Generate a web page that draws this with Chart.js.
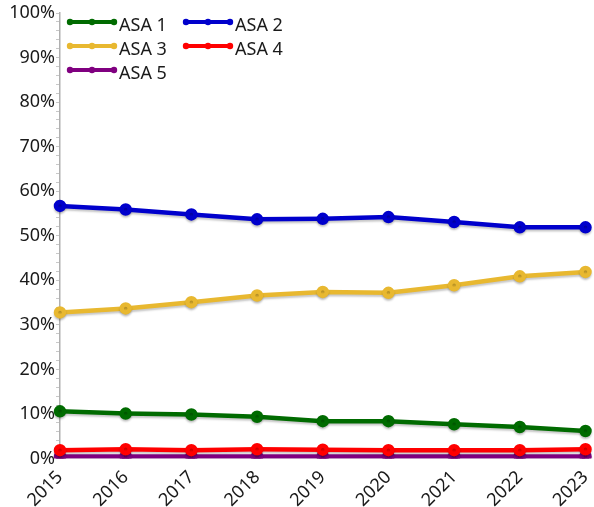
<!DOCTYPE html>
<html><head><meta charset="utf-8">
<script src="https://cdn.jsdelivr.net/npm/chart.js@4/dist/chart.umd.min.js"></script>
<style>html,body{margin:0;padding:0;background:#fff}#wrap{width:594px;height:507px}</style>
</head><body><div id="wrap"><canvas id="c" width="594" height="507"></canvas></div>
<script>
const years = ['2015','2016','2017','2018','2019','2020','2021','2022','2023'];
const asa1 = [10.6,10.1,9.9,9.4,8.4,8.4,7.7,7.1,6.2];
const asa2 = [56.7,55.9,54.8,53.7,53.8,54.2,53.1,51.9,51.9];
const asa3 = [32.8,33.7,35.1,36.6,37.4,37.2,38.9,40.9,41.9];
const asa4 = [1.9,2.1,1.9,2.1,2.0,1.9,1.9,1.9,2.1];
const asa5 = [0.5,0.5,0.5,0.5,0.5,0.5,0.5,0.5,0.5];
const seriesNames = ['ASA 1','ASA 2','ASA 3','ASA 4','ASA 5'];
const seriesColors = ['#006b00','#0000cc','#e8b830','#ff0000','#800080'];
const seriesData = [asa1,asa2,asa3,asa4,asa5];
const FONT = '"Noto Sans", "Open Sans", sans-serif';

const shadowPlugin = {
  id:'shadow',
  beforeDatasetsDraw(chart){const c=chart.ctx;c.save();c.shadowColor='rgba(0,0,0,0.22)';c.shadowBlur=2;c.shadowOffsetY=2;},
  afterDatasetsDraw(chart){chart.ctx.restore();}
};
const legendPlugin = {
  id:'inlegend',
  afterDraw(chart){
    const c=chart.ctx;c.save();
    chart.data.datasets.forEach((ds,i)=>{
      const col=i%2,row=Math.floor(i/2);
      const x0=70+col*116, y=22+row*24;
      c.strokeStyle=ds.borderColor;c.fillStyle=ds.borderColor;c.lineWidth=4;
      c.beginPath();c.moveTo(x0,y);c.lineTo(x0+44,y);c.stroke();
      [0,22,44].forEach(dx=>{c.beginPath();c.arc(x0+dx,y,3.2,0,Math.PI*2);c.fill();});
      c.fillStyle='#1a1a1a';c.font='18px '+FONT;c.textBaseline='middle';c.textAlign='left';
      c.fillText(ds.label,x0+49,y+4);
    });
    c.restore();
  }
};

new Chart(document.getElementById('c'),{
  type:'line',
  data:{labels:years,datasets:seriesNames.map((n,i)=>({label:n,data:seriesData[i],borderColor:seriesColors[i],backgroundColor:seriesColors[i],borderWidth:4.5,pointRadius:4,pointHoverRadius:4,tension:0,fill:false}))},
  options:{
    responsive:false,animation:false,
    layout:{padding:{top:13,right:8,left:6,bottom:0}},
    plugins:{legend:{display:false},tooltip:{enabled:false}},
    scales:{
      x:{offset:false,grid:{display:false},border:{display:false},
         afterFit(s){s.height-=4;s.paddingRight=0;},
         ticks:{color:'#1a1a1a',font:{size:18,family:FONT},maxRotation:45,minRotation:45,padding:0}},
      y:{min:0,max:100,
         afterFit(s){s.width=54;},
         grid:{drawOnChartArea:false,drawTicks:true,tickLength:4,color:'#c8c8c8'},
         border:{display:true,color:'#b0b0b0',width:1.5},
         ticks:{stepSize:2,autoSkip:false,color:'#1a1a1a',font:{size:18,family:FONT},padding:1,
           callback:(v)=> (v%10===0? v+'%':'')}}
    }
  },
  plugins:[shadowPlugin,legendPlugin]
});
</script></body></html>
